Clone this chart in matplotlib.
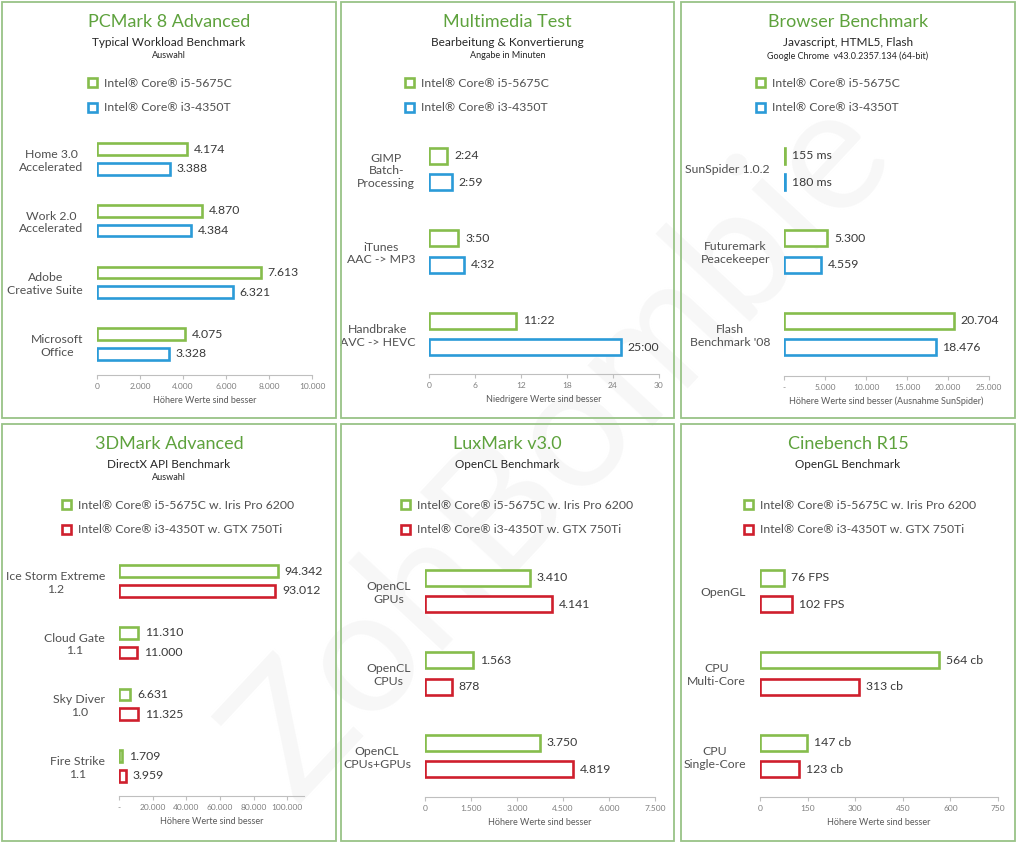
import matplotlib.pyplot as plt
from matplotlib.patches import Rectangle

plt.rcParams['font.family'] = ['Lato', 'DejaVu Sans']

W, H = 1020, 844

# --- Daten ---
pc_cats = ['Home 3.0\nAccelerated', 'Work 2.0\nAccelerated', 'Adobe\nCreative Suite', 'Microsoft\nOffice']
pc_i5 = [4174, 4870, 7613, 4075]
pc_i3 = [3388, 4384, 6321, 3328]

mm_cats = ['GIMP\nBatch-\nProcessing', 'iTunes\nAAC -> MP3', 'Handbrake\nAVC -> HEVC']
mm_i5 = ['2:24', '3:50', '11:22']
mm_i3 = ['2:59', '4:32', '25:00']

br_cats = ['SunSpider 1.0.2', 'Futuremark\nPeacekeeper', "Flash\nBenchmark '08"]
br_i5 = [155, 5300, 20704]
br_i3 = [180, 4559, 18476]

dm_cats = ['Ice Storm Extreme\n1.2', 'Cloud Gate\n1.1', 'Sky Diver\n1.0', 'Fire Strike\n1.1']
dm_i5 = [94342, 11310, 6631, 1709]
dm_i3 = [93012, 11000, 11325, 3959]

lx_cats = ['OpenCL\nGPUs', 'OpenCL\nCPUs', 'OpenCL\nCPUs+GPUs']
lx_i5 = [3410, 1563, 3750]
lx_i3 = [4141, 878, 4819]

cb_cats = ['OpenGL', 'CPU\nMulti-Core', 'CPU\nSingle-Core']
cb_i5 = [76, 564, 147]
cb_i3 = [102, 313, 123]
cb_units = ['FPS', 'cb', 'cb']

cpu_a = 'Intel® Core® i5-5675C'
cpu_b = 'Intel® Core® i3-4350T'
gpu_a = 'Intel® Core® i5-5675C w. Iris Pro 6200'
gpu_b = 'Intel® Core® i3-4350T w. GTX 750Ti'

GREEN = '#86bd4c'
BLUE = '#2b9bd8'
RED = '#cf1f2d'
TITLE = '#5ea23d'
BORDER = '#98c387'


def de(v):
    return f'{v:,}'.replace(',', '.')


def minutes(s):
    m, sec = s.split(':')
    return int(m) + int(sec) / 60


fig = plt.figure(figsize=(W / 100, H / 100), dpi=100)


def fx(x):
    return x / W


def fy(y):
    return 1 - y / H


# Wasserzeichen (sehr blass)
fig.text(0.55, 0.47, 'ZohBombie', fontsize=125, color='#f7f7f7',
         rotation=47, ha='center', va='center', zorder=-5)


def panel(box, title, sub, note, cats, v1, v2, l1, l2, leg, cols, xmax,
          ticks, ticklabels, xlabel, xpx, centers, axis_y, legpos):
    x0, y0, x1, y1 = box
    fig.patches.append(Rectangle((fx(x0), fy(y1)), fx(x1 - x0), (y1 - y0) / H,
                                 transform=fig.transFigure, fill=False,
                                 edgecolor=BORDER, lw=1.3))
    cx = fx((x0 + x1) / 2)
    fig.text(cx, fy(y0 + 20), title, color=TITLE, fontsize=13, ha='center', va='center')
    fig.text(cx, fy(y0 + 40), sub, color='#262626', fontsize=8.5, ha='center', va='center')
    if note:
        fig.text(cx, fy(y0 + 54), note, color='#262626', fontsize=6.5, ha='center', va='center')

    n = len(cats)
    c0, cl = centers
    s = (cl - c0) / (n - 1)
    top = c0 - 0.5 * s
    ax = fig.add_axes([fx(xpx[0]), fy(axis_y), fx(xpx[1] - xpx[0]), (axis_y - top) / H])
    ax.patch.set_alpha(0)
    ys = list(range(n))
    b1 = ax.barh([y - 0.16 for y in ys], v1, height=0.19, color='white',
                 edgecolor=cols[0], lw=1.9, label=leg[0])
    b2 = ax.barh([y + 0.16 for y in ys], v2, height=0.19, color='white',
                 edgecolor=cols[1], lw=1.9, label=leg[1])
    for y, v, t in zip(ys, v1, l1):
        ax.annotate(t, (v, y - 0.16), xytext=(5, 0), textcoords='offset points',
                    va='center', ha='left', fontsize=8.8, color='#3a3a3a')
    for y, v, t in zip(ys, v2, l2):
        ax.annotate(t, (v, y + 0.16), xytext=(5, 0), textcoords='offset points',
                    va='center', ha='left', fontsize=8.8, color='#3a3a3a')
    ax.set_xlim(0, xmax)
    ax.set_ylim(n - 1 + (axis_y - cl) / s, -0.5)
    ax.set_yticks(ys)
    ax.set_yticklabels(cats, fontsize=8.8, color='#505050', multialignment='center')
    ax.tick_params(axis='y', length=0, pad=10)
    ax.set_xticks(ticks)
    ax.set_xticklabels(ticklabels)
    ax.tick_params(axis='x', length=3, color='#bfbfbf', labelcolor='#7f7f7f',
                   labelsize=6, pad=3, width=0.8)
    for sp in ['top', 'right', 'left']:
        ax.spines[sp].set_visible(False)
    ax.spines['bottom'].set_color('#bfbfbf')
    ax.spines['bottom'].set_linewidth(0.8)
    ax.set_xlabel(xlabel, fontsize=6.5, color='#595959', labelpad=4)
    ax.legend(handles=[b1, b2], loc='upper left', frameon=False,
              bbox_to_anchor=(fx(legpos[0]), fy(legpos[1])),
              bbox_transform=fig.transFigure, fontsize=8.8, labelcolor='#505050',
              handlelength=0.75, handleheight=0.75, handletextpad=0.55,
              labelspacing=1.1, borderpad=0, borderaxespad=0)
    return ax


# PCMark 8
panel((2, 2, 336, 418), 'PCMark 8 Advanced', 'Typical Workload Benchmark', 'Auswahl',
      pc_cats, pc_i5, pc_i3, [de(v) for v in pc_i5], [de(v) for v in pc_i3],
      [cpu_a, cpu_b], [GREEN, BLUE], 10000,
      [0, 2000, 4000, 6000, 8000, 10000], ['0', '2.000', '4.000', '6.000', '8.000', '10.000'],
      'Höhere Werte sind besser', (97, 312), (159, 344), 375, (88, 78))

# Multimedia
panel((341, 2, 674, 418), 'Multimedia Test', 'Bearbeitung & Konvertierung', 'Angabe in Minuten',
      mm_cats, [minutes(t) for t in mm_i5], [minutes(t) for t in mm_i3], mm_i5, mm_i3,
      [cpu_a, cpu_b], [GREEN, BLUE], 30,
      [0, 6, 12, 18, 24, 30], ['0', '6', '12', '18', '24', '30'],
      'Niedrigere Werte sind besser', (429, 659), (169, 334), 374, (405, 78))

# Browser
panel((681, 2, 1015, 418), 'Browser Benchmark', 'Javascript, HTML5, Flash',
      'Google Chrome  v43.0.2357.134 (64-bit)',
      br_cats, br_i5, br_i3,
      [f'{br_i5[0]} ms'] + [de(v) for v in br_i5[1:]],
      [f'{br_i3[0]} ms'] + [de(v) for v in br_i3[1:]],
      [cpu_a, cpu_b], [GREEN, BLUE], 25000,
      [0, 5000, 10000, 15000, 20000, 25000], ['-', '5.000', '10.000', '15.000', '20.000', '25.000'],
      'Höhere Werte sind besser (Ausnahme SunSpider)', (784, 989), (169, 334), 376, (756, 78))

# 3DMark
panel((2, 424, 336, 841), '3DMark Advanced', 'DirectX API Benchmark', 'Auswahl',
      dm_cats, dm_i5, dm_i3, [de(v) for v in dm_i5], [de(v) for v in dm_i3],
      [gpu_a, gpu_b], [GREEN, RED], 110000,
      [0, 20000, 40000, 60000, 80000, 100000],
      ['-', '20.000', '40.000', '60.000', '80.000', '100.000'],
      'Höhere Werte sind besser', (119, 304), (581, 766), 796, (62, 500))

# LuxMark
panel((341, 424, 674, 841), 'LuxMark v3.0', 'OpenCL Benchmark', None,
      lx_cats, lx_i5, lx_i3, [de(v) for v in lx_i5], [de(v) for v in lx_i3],
      [gpu_a, gpu_b], [GREEN, RED], 7500,
      [0, 1500, 3000, 4500, 6000, 7500], ['0', '1.500', '3.000', '4.500', '6.000', '7.500'],
      'Höhere Werte sind besser', (425, 655), (591, 756), 797, (401, 500))

# Cinebench
panel((681, 424, 1015, 841), 'Cinebench R15', 'OpenGL Benchmark', None,
      cb_cats, cb_i5, cb_i3,
      [f'{v} {u}' for v, u in zip(cb_i5, cb_units)],
      [f'{v} {u}' for v, u in zip(cb_i3, cb_units)],
      [gpu_a, gpu_b], [GREEN, RED], 750,
      [0, 150, 300, 450, 600, 750], ['0', '150', '300', '450', '600', '750'],
      'Höhere Werte sind besser', (760, 998), (591, 756), 797, (744, 500))

fig.savefig('out.png', dpi=100)
